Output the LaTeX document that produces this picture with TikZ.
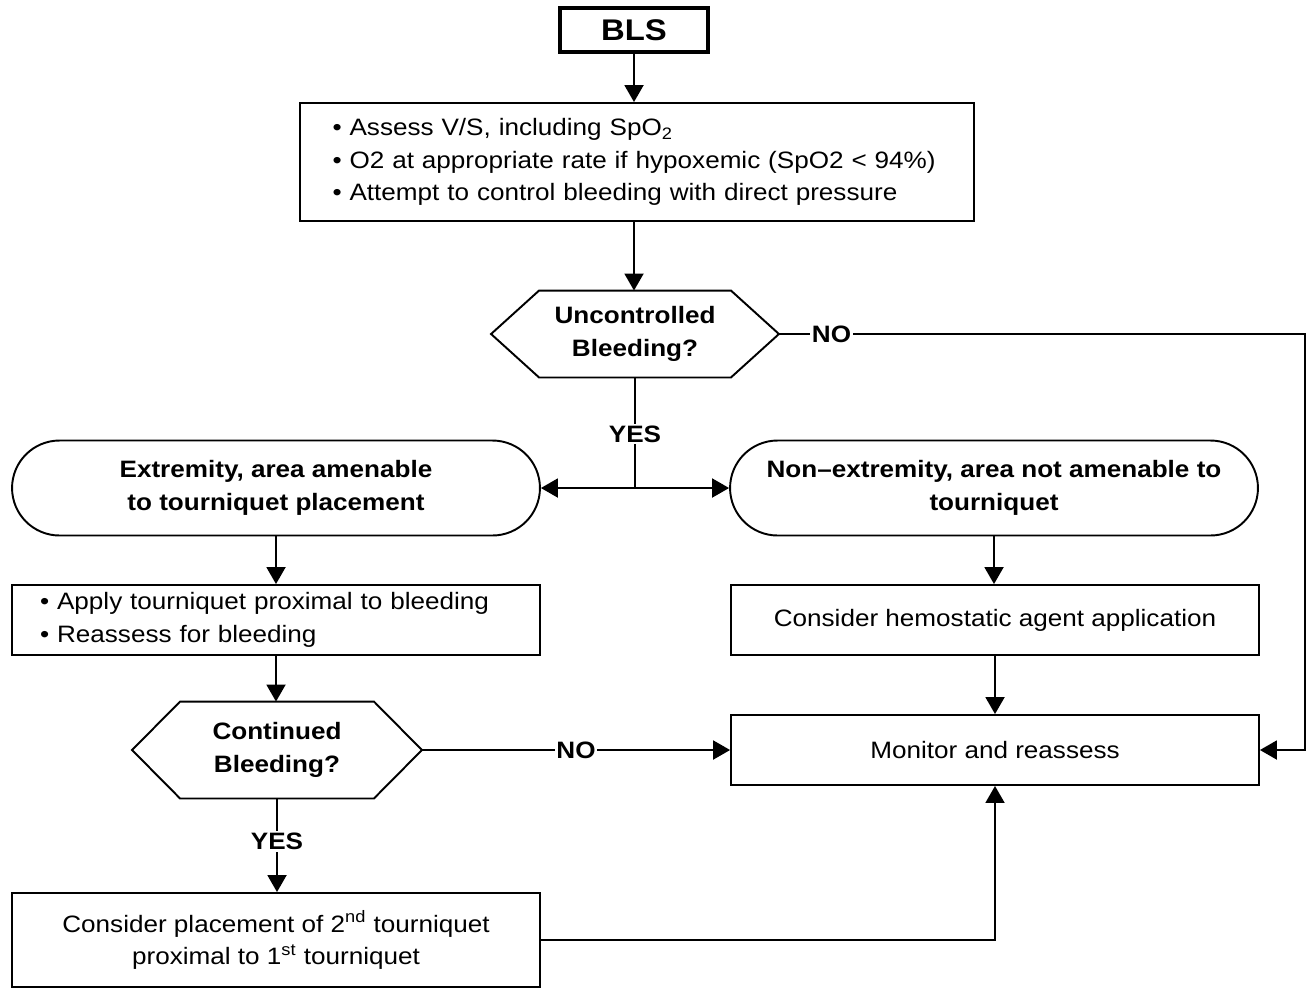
\documentclass[tikz,border=0pt]{standalone}
\usepackage{fontspec}
\setmainfont{Liberation Sans}[FakeStretch=1.1]
\usepackage{tikz}
\usetikzlibrary{arrows.meta,calc}

\tikzset{
  arr/.style={-{Triangle[length=0.34cm,width=0.38cm]}},
  box/.style={draw,rectangle,minimum width=10.56cm,minimum height=1.4cm,inner sep=0pt},
  roundbox/.style={draw,rectangle,rounded corners=0.95cm,minimum width=10.56cm,minimum height=1.9cm,align=center,font=\fontsize{13.5}{18.4}\selectfont\bfseries},
  hexbox/.style={rectangle,minimum width=#1,minimum height=1.8cm,align=center,font=\fontsize{13.5}{18.4}\selectfont\bfseries},
  lbl/.style={fill=white,inner sep=1pt,font=\fontsize{13.5}{16}\selectfont\bfseries}
}

\begin{document}
\begin{tikzpicture}[x=0.02cm,y=-0.02cm,line width=1.1pt,font=\fontsize{13.5}{18.4}\selectfont]
  \useasboundingbox (0,0) rectangle (1310,988);
  % top of the chart
  \node[draw,line width=2.2pt,minimum width=2.96cm,minimum height=0.88cm,inner sep=0pt,font=\fontsize{17}{20}\selectfont\bfseries] (bls) at (634,30) {BLS};
  \node[box,minimum width=13.5cm,minimum height=2.36cm,inner xsep=0.66cm,text width=12.18cm,align=left] (assess) at (637,162)
    {\textbullet\ Assess V/S, including SpO\textsubscript{2}\\
     \textbullet\ O2 at appropriate rate if hypoxemic (SpO2 < 94\%)\\
     \textbullet\ Attempt to control bleeding with direct pressure};
  \node[hexbox=5.72cm,minimum height=1.7cm] (d1) at (635,334) {Uncontrolled\\Bleeding?};
  % two branches
  \node[roundbox] (ext) at (276,488) {Extremity, area amenable\\to tourniquet placement};
  \node[roundbox] (nonext) at (994,488) {Non--extremity, area not amenable to\\tourniquet};
  \node[box,inner xsep=0.56cm,text width=9.44cm,align=left] (apply) at (276,620)
    {\textbullet\ Apply tourniquet proximal to bleeding\\
     \textbullet\ Reassess for bleeding};
  \node[box] (hemo) at (995,620) {Consider hemostatic agent application};
  \node[hexbox=5.76cm,minimum height=1.9cm] (d2) at (277,750) {Continued\\Bleeding?};
  \node[box] (mon) at (995,750) {Monitor and reassess};
  \node[box,minimum height=1.88cm,align=center] (second) at (276,940)
    {Consider placement of 2\textsuperscript{nd} tourniquet\\proximal to 1\textsuperscript{st} tourniquet};
  \coordinate (split) at (d1.south |- ext.east);
  \coordinate (far) at (1305,0);

  % hexagon outlines
  \foreach \n in {d1,d2}
    \draw (\n.west) -- ($(\n.north west)+(48,0)$) -- ($(\n.north east)+(-48,0)$) -- (\n.east)
      -- ($(\n.south east)+(-48,0)$) -- ($(\n.south west)+(48,0)$) -- cycle;

  % connectors
  \draw[arr] (bls.south) -- (bls.south |- assess.north);
  \draw[arr] (assess.south -| bls.south) -- (bls.south |- d1.north);
  \draw (d1.south) -- node[lbl,pos=0.51] {YES} (split);
  \draw[arr] (split) -- (ext.east);
  \draw[arr] (split) -- (nonext.west);
  \draw[arr] (d1.east) -- node[lbl,pos=0.1] {NO} (d1.east -| far) |- (mon.east);
  \draw[arr] (ext.south) -- (ext.south |- apply.north);
  \draw[arr] (apply.south) -- (apply.south |- d2.north);
  \draw[arr] (d2.south) -- node[lbl,pos=0.46] {YES} (d2.south |- second.north);
  \draw[arr] (d2.east) -- node[lbl] {NO} (mon.west);
  \draw[arr] (nonext.south) -- (nonext.south |- hemo.north);
  \draw[arr] (hemo.south) -- (mon.north);
  \draw[arr] (second.east) -| (mon.south);
\end{tikzpicture}
\end{document}
